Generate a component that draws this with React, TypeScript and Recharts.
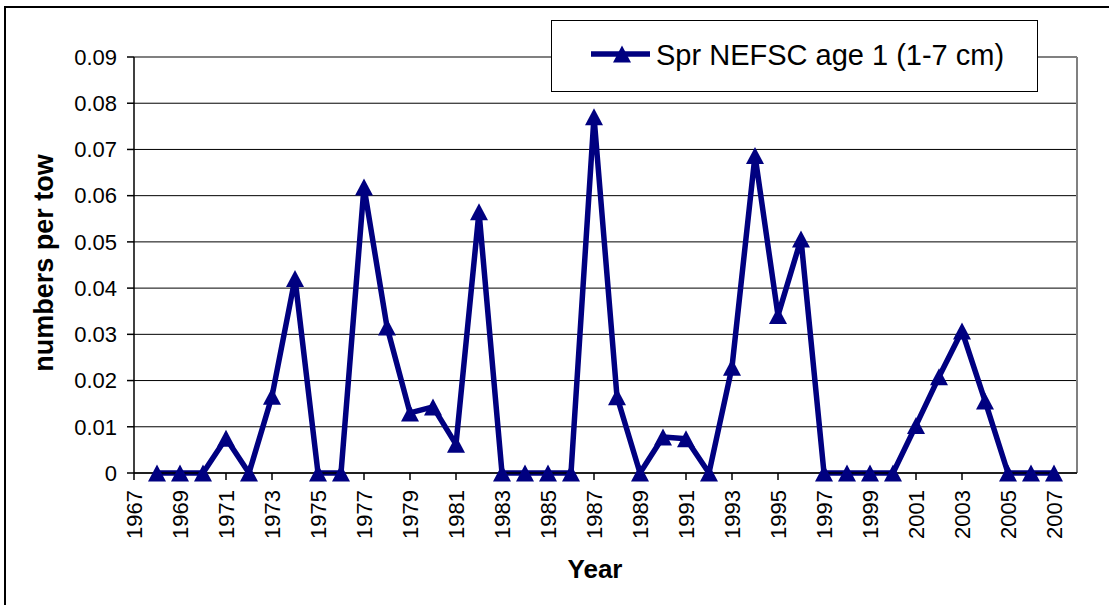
import React from 'react';
import { LineChart, Line, XAxis, YAxis, CartesianGrid, Legend, ReferenceLine, Label } from 'recharts';

const years = [
  1968, 1969, 1970, 1971, 1972, 1973, 1974, 1975, 1976, 1977,
  1978, 1979, 1980, 1981, 1982, 1983, 1984, 1985, 1986, 1987,
  1988, 1989, 1990, 1991, 1992, 1993, 1994, 1995, 1996, 1997,
  1998, 1999, 2000, 2001, 2002, 2003, 2004, 2005, 2006, 2007,
];
const values = [
  0, 0, 0, 0.0075, 0, 0.0166, 0.0421, 0, 0, 0.0619,
  0.0316, 0.013, 0.0143, 0.0062, 0.0565, 0, 0, 0, 0, 0.0771,
  0.0165, 0, 0.0078, 0.0074, 0, 0.0229, 0.0687, 0.0341, 0.0506, 0,
  0, 0, 0, 0.0103, 0.0208, 0.0307, 0.0156, 0, 0, 0,
];
const xTicks = [
  1967, 1969, 1971, 1973, 1975, 1977, 1979, 1981, 1983, 1985, 1987,
  1989, 1991, 1993, 1995, 1997, 1999, 2001, 2003, 2005, 2007,
];
const yTicks = [0, 0.01, 0.02, 0.03, 0.04, 0.05, 0.06, 0.07, 0.08, 0.09];
const xDomain = [1967, 2008];
const seriesName = 'Spr NEFSC age 1 (1-7 cm)';
const xTitle = 'Year';
const yTitle = 'numbers per tow';

const data = years.map((year, i) => ({ year, value: values[i] }));

const FONT = '"Liberation Sans", Arial, Helvetica, sans-serif';
const NAVY = '#000080';

const tri = (cx: number, cy: number) =>
  `M${cx},${cy - 8.5}L${cx + 9},${cy + 8.5}L${cx - 9},${cy + 8.5}Z`;

const Triangle = (props: any) => {
  const { cx, cy } = props;
  if (cx == null || cy == null) return <g key={`d-${props.index}`} />;
  return <path key={`d-${props.index}`} d={tri(cx, cy)} fill={NAVY} />;
};

const XTick = (props: any) => {
  const { x, payload } = props;
  return (
    <text
      x={0}
      y={0}
      transform={`translate(${x},490) rotate(-90)`}
      textAnchor="end"
      dy="0.36em"
      fontSize={22}
      fontFamily={FONT}
      fill="#000"
    >
      {payload.value}
    </text>
  );
};

const LegendBox = (props: any) => {
  const name = props?.payload?.[0]?.value ?? seriesName;
  return (
    <svg width={488} height={72} style={{ display: 'block' }}>
      <rect x={0.5} y={0.5} width={486} height={71} fill="#fff" stroke="#000" strokeWidth={1} />
      <line x1={40} x2={99} y1={34} y2={34} stroke={NAVY} strokeWidth={5.5} />
      <path d={tri(71, 34)} fill={NAVY} />
      <text x={105} y={35} dy="0.36em" fontSize={29} fontFamily={FONT} fill="#000">
        {name}
      </text>
    </svg>
  );
};

export default function App() {
  return (
    <div
      style={{
        position: 'absolute',
        left: 0,
        top: 0,
        width: 1109,
        height: 605,
        overflow: 'hidden',
        background: '#fff',
      }}
    >
      <div
        style={{
          position: 'absolute',
          left: 4,
          top: 6,
          width: 1200,
          height: 700,
          borderLeft: '2px solid #000',
          borderTop: '2px solid #000',
        }}
      />
      <div style={{ position: 'absolute', left: 0, top: 0 }}>
        <LineChart
          width={1109}
          height={605}
          data={data}
          margin={{ top: 57, right: 32, bottom: 32, left: 74 }}
        >
          <CartesianGrid horizontal vertical={false} stroke="#000" strokeWidth={1} />
          <XAxis
            dataKey="year"
            type="number"
            domain={xDomain}
            ticks={xTicks}
            interval={0}
            height={100}
            tickSize={7}
            tick={<XTick />}
            axisLine={{ stroke: '#000', strokeWidth: 1.5 }}
            tickLine={{ stroke: '#000', strokeWidth: 1.5 }}
          >
            <Label
              content={() => (
                <text
                  x={595}
                  y={578}
                  textAnchor="middle"
                  fontSize={26}
                  fontWeight="bold"
                  fontFamily={FONT}
                  fill="#000"
                >
                  {xTitle}
                </text>
              )}
            />
          </XAxis>
          <YAxis
            type="number"
            domain={[0, 0.09]}
            ticks={yTicks}
            interval={0}
            width={60}
            tickSize={7}
            tickMargin={10}
            tickFormatter={(v: number) => (v === 0 ? '0' : v.toFixed(2))}
            tick={{ fontSize: 22, fill: '#000', fontFamily: FONT }}
            axisLine={{ stroke: '#000', strokeWidth: 1.5 }}
            tickLine={{ stroke: '#000', strokeWidth: 1.5 }}
          >
            <Label
              content={() => (
                <text
                  x={0}
                  y={0}
                  transform="translate(53,263) rotate(-90)"
                  textAnchor="middle"
                  fontSize={27}
                  fontWeight="bold"
                  fontFamily={FONT}
                  fill="#000"
                >
                  {yTitle}
                </text>
              )}
            />
          </YAxis>
          <ReferenceLine y={0.09} stroke="#808080" strokeWidth={2} />
          <ReferenceLine x={2008} stroke="#808080" strokeWidth={2} />
          <Legend
            layout="horizontal"
            verticalAlign="middle"
            align="center"
            content={<LegendBox />}
            wrapperStyle={{ left: 551, top: 20, width: 488, height: 72 }}
          />
          <Line
            type="linear"
            dataKey="value"
            name={seriesName}
            stroke={NAVY}
            strokeWidth={5.5}
            strokeLinejoin="round"
            dot={(p: any) => <Triangle key={`dot-${p.index}`} {...p} />}
            activeDot={false}
            isAnimationActive={false}
          />
        </LineChart>
      </div>
    </div>
  );
}
